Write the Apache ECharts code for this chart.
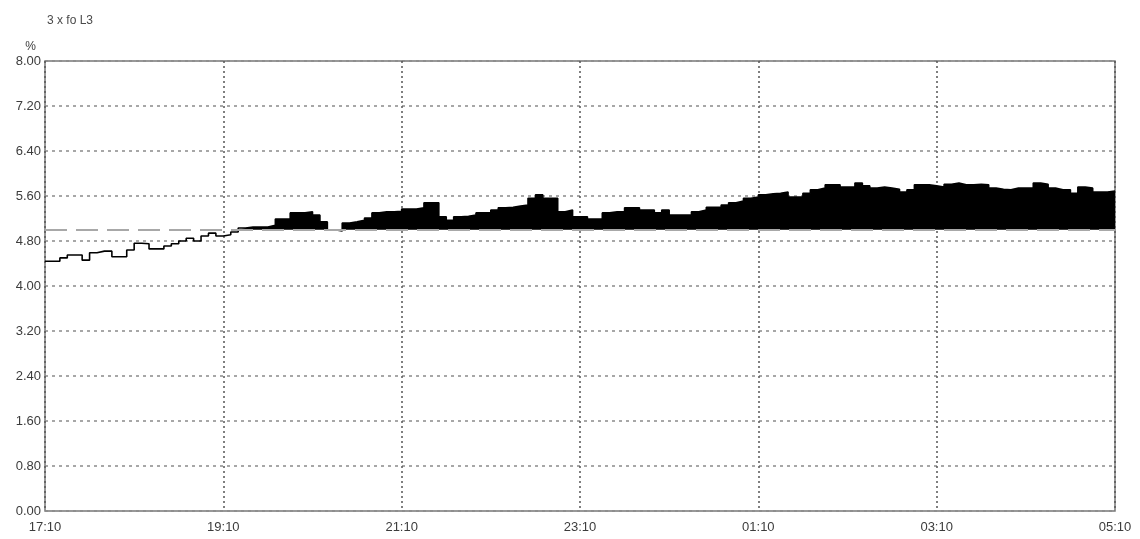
<!DOCTYPE html>
<html>
<head>
<meta charset="utf-8">
<title>3 x fo L3</title>
<script src="https://cdn.jsdelivr.net/npm/echarts@6/dist/echarts.min.js"></script>
<style>
  html, body { margin: 0; padding: 0; background: #ffffff; }
  #chart { width: 1140px; height: 539px; }
</style>
</head>
<body>
<div id="chart"></div>
<script>
// 5-minute samples of the fundamental-frequency quantity for phase L3, 17:10 to 05:10 (%)
const sampleMinutes = 5;
const spanMinutes = 720;
const timeTickLabels = ['17:10', '19:10', '21:10', '23:10', '01:10', '03:10', '05:10'];
const yTickLabels = ['0.00', '0.80', '1.60', '2.40', '3.20', '4.00', '4.80', '5.60', '6.40', '7.20', '8.00'];
const limitValue = 5.0;

const valuesEvening = [
  4.44, 4.44, 4.50, 4.55, 4.55, 4.46, 4.59, 4.62, 4.62, 4.52,
  4.52, 4.64, 4.76, 4.75, 4.66, 4.66, 4.71, 4.75, 4.80, 4.85,
  4.80, 4.89, 4.94, 4.89, 4.91, 4.96, 5.03, 5.05, 5.05, 5.05,
  5.08, 5.19, 5.19, 5.30, 5.30, 5.32, 5.26, 5.14, 5.00, 4.98,
  5.12, 5.14, 5.17, 5.21, 5.30, 5.32, 5.32, 5.33, 5.37, 5.37,
  5.39, 5.48, 5.48, 5.23, 5.17, 5.23, 5.24, 5.26, 5.30, 5.30,
  5.35, 5.39, 5.40, 5.42, 5.44, 5.56, 5.62, 5.56, 5.56, 5.32,
  5.35, 5.23
];
const valuesNight = [
  5.23, 5.19, 5.19, 5.30, 5.32, 5.32, 5.39, 5.39, 5.35, 5.35,
  5.30, 5.35, 5.26, 5.26, 5.26, 5.32, 5.35, 5.40, 5.40, 5.44,
  5.48, 5.51, 5.56, 5.58, 5.62, 5.64, 5.65, 5.67, 5.58, 5.58,
  5.65, 5.71, 5.74, 5.80, 5.80, 5.76, 5.76, 5.83, 5.78, 5.74,
  5.76, 5.74, 5.72, 5.67, 5.71, 5.80, 5.80, 5.78, 5.76, 5.81,
  5.83, 5.80, 5.80, 5.81, 5.80, 5.74, 5.72, 5.71, 5.74, 5.74,
  5.74, 5.83, 5.81, 5.74, 5.71, 5.71, 5.65, 5.76, 5.74, 5.67,
  5.67, 5.69
];

const values = valuesEvening.concat(valuesNight);

// each value holds for one sample interval; repeat the last one at the end of the span
const linePoints = values.map((v, i) => [i * sampleMinutes, v]);
linePoints.push([spanMinutes, values[values.length - 1]]);
// portion above the limit, filled down to the limit line
const excessPoints = linePoints.map(p => [p[0], Math.max(p[1], limitValue)]);

const labelColor = '#3c3c3c';
const labelFont = 'Liberation Sans, Arial, sans-serif';

const chart = echarts.init(document.getElementById('chart'), null, { renderer: 'canvas' });
chart.setOption({
  animation: false,
  backgroundColor: '#ffffff',
  title: {
    text: '3 x fo L3',
    left: 42,
    top: 10,
    textStyle: { fontSize: 12, fontWeight: 'normal', color: '#4a4a4a', fontFamily: labelFont }
  },
  grid: {
    left: 45, right: 25, top: 61, bottom: 28,
    show: true, borderColor: '#777777', borderWidth: 1.5, backgroundColor: 'transparent'
  },
  xAxis: {
    type: 'value',
    min: 0, max: spanMinutes, interval: 120,
    axisLine: { show: false },
    axisTick: { show: false },
    axisLabel: {
      color: labelColor, fontSize: 13, fontFamily: labelFont, margin: 10,
      formatter: v => timeTickLabels[Math.round(v / 120)] || ''
    },
    splitLine: { show: true, lineStyle: { color: '#555555', width: 1.5, type: [2, 3] } }
  },
  yAxis: {
    type: 'value',
    name: '%',
    nameLocation: 'end',
    nameGap: 8,
    nameTextStyle: { color: labelColor, fontSize: 12, fontFamily: labelFont, align: 'right', padding: [0, 9, 0, 0] },
    min: 0, max: 8, interval: 0.8,
    axisLine: { show: false },
    axisTick: { show: false },
    axisLabel: {
      color: labelColor, fontSize: 13, fontFamily: labelFont, margin: 4,
      formatter: v => yTickLabels[Math.round(v / 0.8)] || ''
    },
    splitLine: { show: true, lineStyle: { color: '#8a8a8a', width: 1.5, type: [3, 4] } }
  },
  series: [
    {
      type: 'line',
      name: 'excess',
      data: excessPoints,
      step: 'end',
      symbol: 'none',
      lineStyle: { width: 0 },
      itemStyle: { color: '#000000' },
      areaStyle: { color: '#000000', opacity: 1, origin: limitValue },
      z: 3,
      markLine: {
        silent: true,
        symbol: 'none',
        label: { show: false },
        lineStyle: { color: '#a8a8a8', width: 2, type: [22, 9] },
        data: [{ yAxis: limitValue }]
      }
    },
    {
      type: 'line',
      name: 'fo L3',
      data: linePoints,
      step: 'end',
      symbol: 'none',
      lineStyle: { color: '#000000', width: 1.6 },
      z: 4
    }
  ]
});
</script>
</body>
</html>
